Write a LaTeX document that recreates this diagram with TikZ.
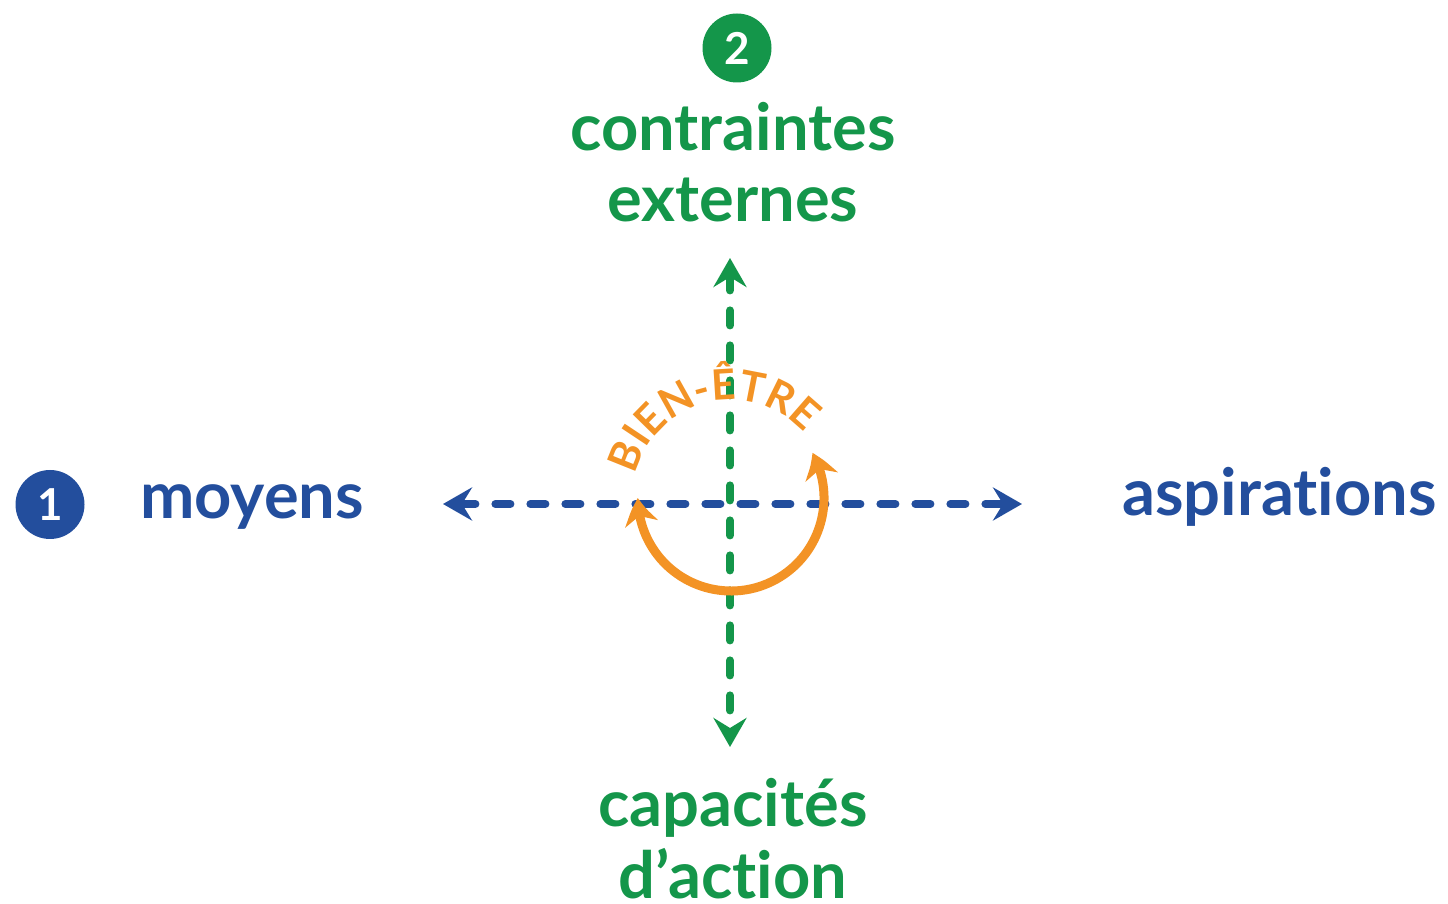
\documentclass[tikz,border=0pt]{standalone}
\usepackage{fontspec}
\setmainfont{Lato}[Ligatures=NoCommon]
\usetikzlibrary{arrows.meta,bending,decorations.text}
\definecolor{cblue}{HTML}{234E9D}
\definecolor{cgreen}{HTML}{14964A}
\definecolor{corange}{HTML}{F39325}
\begin{document}
\begin{tikzpicture}[x=1pt,y=1pt,
  lab/.style={inner sep=0pt, font=\fontsize{65}{70}\selectfont\bfseries},
  num/.style={circle, inner sep=0pt, minimum size=69pt, font=\fontsize{44}{44}\selectfont\bfseries, text=white},
  axis/.style={line width=8pt, line cap=round, dash pattern=on 15pt off 20pt, {Stealth[length=29pt,width=33pt,inset=10pt]}-{Stealth[length=29pt,width=33pt,inset=10pt]}},
  loop/.style={corange, line width=9pt, {Stealth[length=26pt,width=33pt,inset=8pt,bend]}-{Stealth[length=26pt,width=33pt,inset=8pt,bend]}},
]
\useasboundingbox (0,0) rectangle (1448,903);
\coordinate (c) at (731,405);
\coordinate (bl) at (443,399);
\coordinate (br) at (1022,399);
\coordinate (gt) at (730,645);
\coordinate (gb) at (730,156);

\node[num, fill=cblue] (n1) at (50,398.5) {1};
\node[num, fill=cgreen] (n2) at (737,855) {2};

\node[lab, text=cblue, anchor=base west] (moy) at (140,384) {moyens};
\node[lab, text=cblue, anchor=base west] (asp) at (1122,387) {aspirations};
\node[lab, text=cgreen, anchor=base] (con) at (733,752) {contraintes};
\node[lab, text=cgreen, anchor=base] (ext) at (733,681) {externes};
\node[lab, text=cgreen, anchor=base] (cap) at (733,77) {capacités};
\node[lab, text=cgreen, anchor=base] (dac) at (733,5) {d’action};

\draw[axis, cgreen] (gt) -- (gb);
\draw[axis, cblue] (bl) -- (br);

\draw[loop] (c) ++(29:93) arc[start angle=29, end angle=-180, radius=93];

\path[decorate, decoration={text along path, text align=center,
  text={|\fontsize{42}{42}\selectfont\bfseries\color{corange}|BIEN-ÊTRE}}]
  (c) ++(166:98) arc[start angle=166, end angle=42, radius=98];
\end{tikzpicture}
\end{document}
